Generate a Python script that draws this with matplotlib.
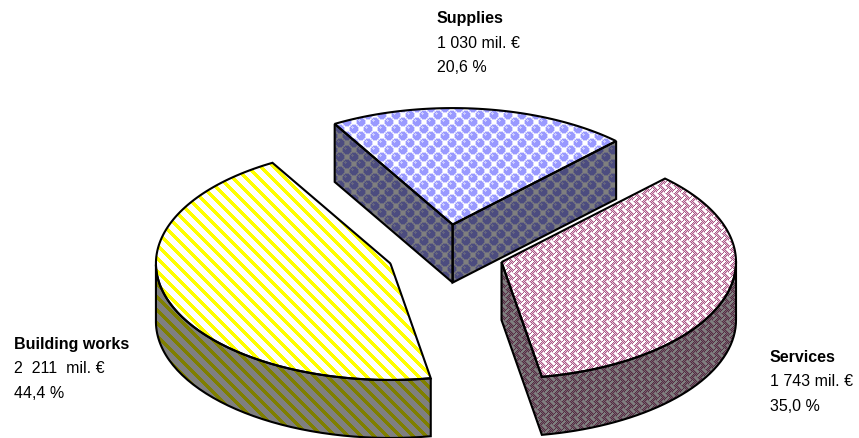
import numpy as np
import matplotlib
matplotlib.use('Agg')
import matplotlib.pyplot as plt
from matplotlib.patches import PathPatch
from matplotlib.path import Path

categories = ['Supplies', 'Services', 'Building works']
amounts = [1030, 1743, 2211]
amount_labels = ['1 030 mil. €', '1 743 mil. €', '2  211  mil. €']
percent_labels = ['20,6 %', '35,0 %', '44,4 %']

W, H = 859, 439
# pie geometry in pixels
cx, cy = 445.5, 254.5
rx, ry = 234.5, 116.5
depth = 58
explode = 0.25
start_angle = -30.2
label_pos = [(437, 19), (770, 358), (14, 345)]
line_gap = [24, 25]


def bubbles():
    tile = np.ones((14, 14, 3)) * 255.0
    yy, xx = np.mgrid[0:14, 0:14]
    centres = [(3.5, 3.5), (10.5, 10.5), (17.5, 3.5), (3.5, 17.5), (-3.5, 10.5), (10.5, -3.5)]
    for (x0, y0) in centres:
        tile[np.hypot(xx - x0, yy - y0) < 5.0] = (215, 215, 255)
    for (x0, y0) in centres:
        tile[np.hypot(xx - x0, yy - y0) < 4.3] = (153, 153, 255)
        tile[np.hypot(xx - x0 + 1.5, yy - y0 + 1.5) < 1.2] = (205, 205, 255)
    return tile


def weave():
    tile = np.ones((16, 16, 3)) * 255.0
    yy, xx = np.mgrid[0:16, 0:16]
    u = (xx + yy) % 16
    v = (xx - yy) % 16
    block = (u // 8 + v // 8) % 2
    # strokes of neighbouring blocks are offset so they butt instead of joining
    white = np.where(block == 0, (u % 8 >= 1) & (u % 8 < 4), (v % 8 >= 4) & (v % 8 < 7))
    dots = (xx + yy) % 2 == 0
    tile[~white] = (228, 190, 212)
    tile[~white & dots] = (170, 90, 135)
    return tile


def stripes():
    tile = np.ones((13, 13, 3)) * 255.0
    yy, xx = np.mgrid[0:13, 0:13]
    tile[(xx - yy) % 13 < 5] = (255, 255, 0)
    return tile


tiles = [bubbles(), weave(), stripes()]


def tiled(tile, shade=1.0):
    h, w = tile.shape[:2]
    out = np.tile(tile, (H // h + 1, W // w + 1, 1))[:H, :W]
    return (out * shade / 255).clip(0, 1)


def textured(ax, pts, tile, shade=1.0):
    outline = Path(np.vstack([pts, pts[0]]), closed=False)
    patch = PathPatch(outline, facecolor='none', edgecolor='none')
    ax.add_patch(patch)
    im = ax.imshow(tiled(tile, shade), extent=(0, W, H, 0), interpolation='nearest', aspect='auto')
    im.set_clip_path(patch)
    ax.add_patch(PathPatch(outline, facecolor='none', edgecolor='black', lw=1.5, joinstyle='miter'))


fig = plt.figure(figsize=(W / 100, H / 100), dpi=100)
ax = fig.add_axes([0, 0, 1, 1])

plt.rcParams['font.family'] = ['Liberation Sans', 'DejaVu Sans']

fracs = np.array(amounts) / sum(amounts)
edges = start_angle + 360 * np.concatenate([[0], np.cumsum(fracs)])

tops = []
for i in range(len(amounts)):
    t = np.radians(np.linspace(edges[i], edges[i + 1], 120))
    mid = np.radians((edges[i] + edges[i + 1]) / 2)
    apex = np.array([cx + explode * rx * np.sin(mid), cy - explode * ry * np.cos(mid)])
    arc = np.column_stack([apex[0] + rx * np.sin(t), apex[1] - ry * np.cos(t)])
    tops.append(np.vstack([apex, arc]))

for i in [2, 0, 1]:
    top = tops[i]
    closed = np.vstack([top, top[0]])
    # walls are the outline runs that travel right to left on screen
    run = []
    runs = []
    for p, q in zip(closed[:-1], closed[1:]):
        if q[0] < p[0]:
            if not run:
                run = [p]
            run.append(q)
        elif run:
            runs.append(np.array(run))
            run = []
    if run:
        runs.append(np.array(run))
    for r in runs:
        wall = np.vstack([r, (r + [0, depth])[::-1]])
        textured(ax, wall, tiles[i], 0.5)
    textured(ax, top, tiles[i])

for name, amt, pct, (x, y) in zip(categories, amount_labels, percent_labels, label_pos):
    ax.text(x, y, name, fontsize=11.5, fontweight='bold', va='center', ha='left', color='black')
    ax.text(x, y + line_gap[0], amt, fontsize=11.5, va='center', ha='left', color='black')
    ax.text(x, y + line_gap[0] + line_gap[1], pct, fontsize=11.5, va='center', ha='left', color='black')

ax.set_xlim(0, W)
ax.set_ylim(H, 0)
ax.axis('off')
fig.savefig('out.png', dpi=100)
